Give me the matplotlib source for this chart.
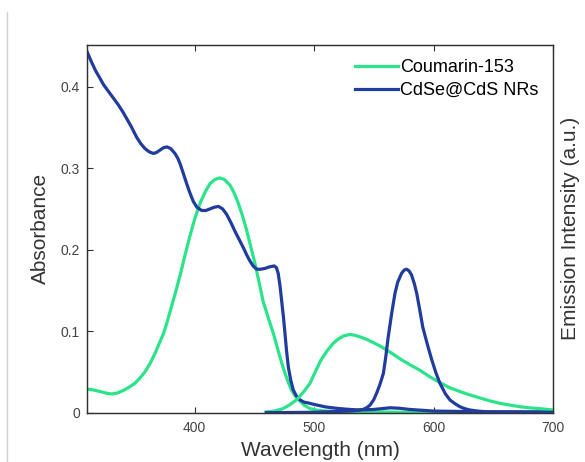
"""
Absorbance (left axis) and emission (right axis, a.u.) spectra of
Coumarin-153 and CdSe@CdS nanorods.
"""
import matplotlib
matplotlib.use("Agg")
import matplotlib.pyplot as plt
from matplotlib.lines import Line2D

GREEN = "#2be489"
BLUE = "#203c9e"

# Absorbance, CdSe@CdS NRs
abs_nr_wl = [310, 313.5, 317, 320.5, 324, 328, 332, 336, 340, 343.5, 347, 351.5,
             355, 358.5, 362, 365.5, 368, 371, 374, 377, 380, 383.6, 386, 388,
             390.5, 393.4, 396, 399, 402, 406, 409.5, 413, 416.5, 420, 423.5, 427,
             430.5, 434, 437.5, 441, 443.5, 446, 449, 452, 455.5, 459, 463, 466.7,
             468.5, 470, 471.5, 473, 474.5, 475.7, 477, 478.5, 480.5, 482.6, 485,
             488, 491.5, 495, 502, 510, 519, 527, 535.6, 543, 550, 557, 563.5, 571,
             580, 590, 600, 625, 650, 700]
abs_nr = [0.443, 0.431, 0.420, 0.411, 0.402, 0.394, 0.386, 0.378, 0.369, 0.360,
          0.351, 0.338, 0.330, 0.324, 0.320, 0.318, 0.319, 0.322, 0.325, 0.326,
          0.324, 0.318, 0.312, 0.305, 0.294, 0.281, 0.270, 0.259, 0.252, 0.248,
          0.248, 0.250, 0.252, 0.253, 0.250, 0.243, 0.233, 0.222, 0.212, 0.202,
          0.194, 0.187, 0.180, 0.176, 0.176, 0.177, 0.179, 0.180, 0.178, 0.171,
          0.156, 0.136, 0.116, 0.097, 0.076, 0.056, 0.040, 0.028, 0.021, 0.016,
          0.013, 0.012, 0.0095, 0.007, 0.0054, 0.0043, 0.0035, 0.0036, 0.004,
          0.005, 0.006, 0.0055, 0.004, 0.003, 0.002, 0.0015, 0.001, 0.001]

# Absorbance, Coumarin-153
abs_c153_wl = [310, 315, 321, 326, 330.7, 335, 340, 345, 350, 354, 358.5, 363, 367,
               370.5, 374, 377, 379.5, 383.6, 388, 392, 396, 400, 404.6, 409, 413,
               417, 421, 425, 429.7, 433, 436.6, 440, 443.6, 447, 450.6, 454, 457.5,
               462, 466, 470, 474, 477.5, 481, 484, 487, 492, 496.6, 503, 510, 530,
               550, 600, 700]
abs_c153 = [0.029, 0.028, 0.026, 0.024, 0.023, 0.024, 0.027, 0.031, 0.036, 0.042,
            0.050, 0.061, 0.073, 0.085, 0.097, 0.111, 0.124, 0.145, 0.169, 0.193,
            0.216, 0.237, 0.257, 0.271, 0.281, 0.286, 0.288, 0.286, 0.279, 0.270,
            0.257, 0.242, 0.224, 0.204, 0.183, 0.160, 0.136, 0.115, 0.097, 0.076,
            0.056, 0.041, 0.028, 0.021, 0.016, 0.009, 0.005, 0.003, 0.002, 0.001,
            0.001, 0.0, 0.0]

# Emission, Coumarin-153 (a.u., on absorbance scale)
em_c153_wl = [460, 467, 474, 480, 485.5, 491, 496.6, 501, 506, 511, 516, 520, 524.5,
              530, 534, 538.5, 544, 549.6, 555, 560.7, 566, 572, 580, 588.7, 597,
              605.4, 613, 622, 630, 639, 647, 655.6, 664, 672, 680, 689, 700]
em_c153 = [0.001, 0.002, 0.005, 0.010, 0.016, 0.025, 0.036, 0.050, 0.065, 0.076,
           0.085, 0.090, 0.094, 0.096, 0.095, 0.093, 0.090, 0.086, 0.082, 0.077,
           0.072, 0.066, 0.059, 0.052, 0.044, 0.037, 0.031, 0.026, 0.022, 0.018,
           0.0145, 0.0115, 0.0093, 0.0074, 0.006, 0.005, 0.0033]

# Emission, CdSe@CdS NRs
em_nr_wl = [460, 500, 530, 538, 541, 544, 547, 550, 552.4, 555, 558, 560, 562, 565,
            567.7, 570, 573.3, 575.5, 577.5, 579.5, 581.6, 584, 586, 588.5, 591,
            595, 598.5, 602, 605.4, 610, 613.8, 618, 622, 626, 630.5, 637, 645, 700]
em_nr = [0.0, 0.0005, 0.002, 0.003, 0.004, 0.006, 0.0095, 0.016, 0.024, 0.034,
         0.048, 0.068, 0.092, 0.122, 0.146, 0.160, 0.171, 0.175, 0.176, 0.174,
         0.169, 0.158, 0.146, 0.126, 0.105, 0.083, 0.065, 0.049, 0.036, 0.023,
         0.0156, 0.011, 0.0074, 0.005, 0.0033, 0.002, 0.001, 0.0005]

x_ticks = [400, 500, 600, 700]
y_ticks = [0, 0.1, 0.2, 0.3, 0.4]

plt.rcParams["font.family"] = ["Liberation Sans", "DejaVu Sans"]

fig = plt.figure(figsize=(5.85, 4.62), dpi=100)
ax = fig.add_axes([87 / 585, 1 - 412.7 / 462, 466 / 585, 367.7 / 462])
ax2 = ax.twinx()

lw = 2.3
ax.plot(abs_c153_wl, abs_c153, color=GREEN, lw=lw, label="Coumarin-153",
        solid_joinstyle="round")
ax.plot(abs_nr_wl, abs_nr, color=BLUE, lw=lw, label="CdSe@CdS NRs",
        solid_joinstyle="round")
ax2.plot(em_c153_wl, em_c153, color=GREEN, lw=lw, solid_joinstyle="round")
ax2.plot(em_nr_wl, em_nr, color=BLUE, lw=lw, solid_joinstyle="round")

ax.set_xlim(310, 700)
ax.set_ylim(0, 0.451)
ax2.set_ylim(0, 0.451)
ax.set_xticks(x_ticks)
ax.set_yticks(y_ticks)
ax.set_yticklabels(["%g" % v for v in y_ticks])
ax.tick_params(axis="both", direction="in", length=4, width=0.8, color="#333333",
               labelsize=10, labelcolor="#444444", top=True)
ax.tick_params(axis="x", pad=6)
ax.tick_params(axis="y", pad=5)
ax2.set_yticks([])

for a in (ax, ax2):
    for s in a.spines.values():
        s.set_color("#333333")
        s.set_linewidth(0.9)

ax.set_xlabel("Wavelength (nm)", fontsize=15, color="#333333", labelpad=4)
ax.set_ylabel("Absorbance", fontsize=15, color="#333333", labelpad=8)
ax2.set_ylabel("Emission Intensity (a.u.)", fontsize=15, color="#333333", labelpad=6)

ax.legend(loc="upper right", bbox_to_anchor=(0.995, 0.995), frameon=False,
          fontsize=13, handlelength=2.4, handletextpad=0.1, labelspacing=0.3,
          borderaxespad=0.3)

# light page border on the left
fig.add_artist(Line2D([7 / 585, 7 / 585], [0, 1 - 12 / 462], transform=fig.transFigure,
                      color="#d0d0d0", lw=1))

fig.savefig("out.png", dpi=100)
